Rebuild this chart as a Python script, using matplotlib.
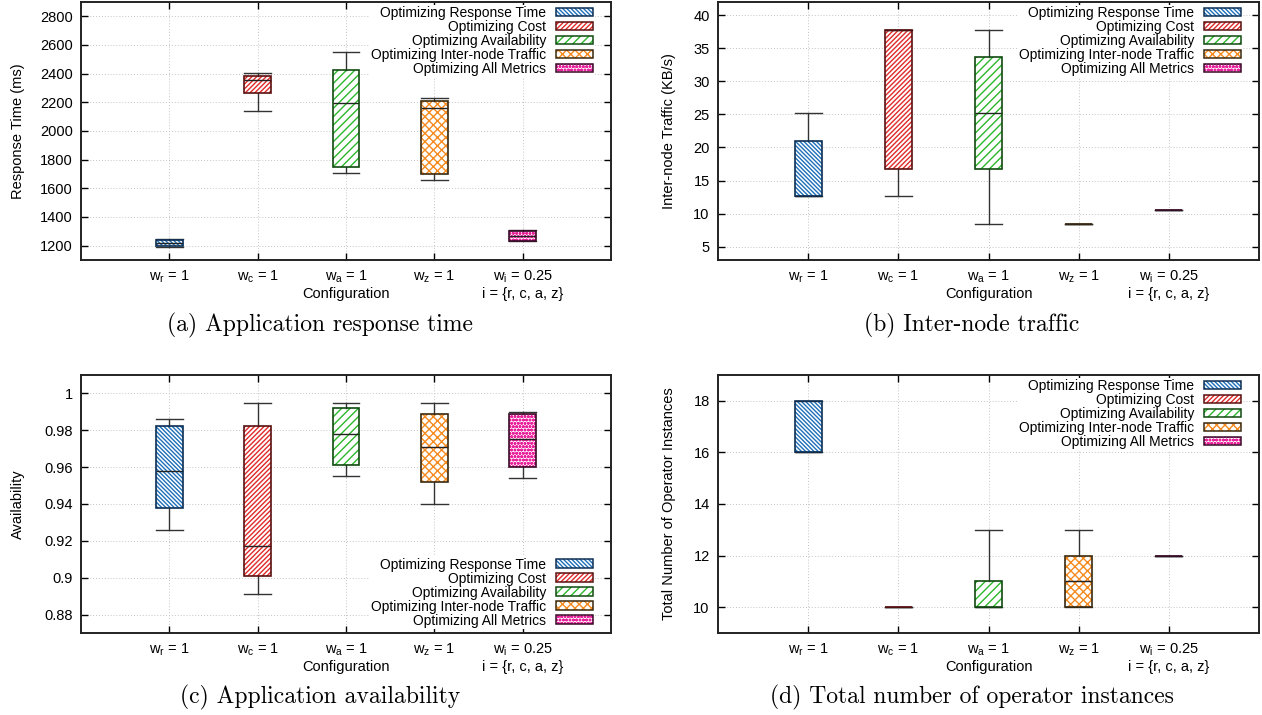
import numpy as np
import matplotlib
matplotlib.use("Agg")
import matplotlib.pyplot as plt
from matplotlib.patches import Patch, PathPatch
from matplotlib.ticker import FuncFormatter

plt.rcParams['font.family'] = ['Liberation Sans', 'DejaVu Sans']
plt.rcParams['mathtext.default'] = 'regular'
plt.rcParams['hatch.linewidth'] = 1.0

configs = ['w$_r$ = 1', 'w$_c$ = 1', 'w$_a$ = 1', 'w$_z$ = 1', 'w$_i$ = 0.25\ni = {r, c, a, z}']
series = ['Optimizing Response Time', 'Optimizing Cost', 'Optimizing Availability',
          'Optimizing Inter-node Traffic', 'Optimizing All Metrics']
colors = ['#1f6fb8', '#e02a2a', '#2cb82c', '#f58a1f', '#e8239c']
edges = ['#0d2f55', '#5a1010', '#104a10', '#3a2a10', '#3a0a28']
hatches = ['\\' * 8, '/' * 7, '////', 'xxxx', 'ooooo']

# (a) response time (ms)
rt_lo = [1188, 2141, 1710, 1661, 1232]
rt_q1 = [1195, 2264, 1750, 1700, 1235]
rt_med = [1220, 2355, 2197, 2157, 1268]
rt_q3 = [1240, 2385, 2423, 2206, 1302]
rt_hi = [1245, 2404, 2553, 2227, 1309]

# (b) inter-node traffic (KB/s)
tr_lo = [12.6, 12.6, 8.4, 8.4, 10.5]
tr_q1 = [12.6, 16.8, 16.8, 8.4, 10.5]
tr_med = [12.6, 37.8, 25.2, 8.4, 10.5]
tr_q3 = [21.0, 37.8, 33.6, 8.4, 10.5]
tr_hi = [25.2, 37.8, 37.8, 8.4, 10.5]

# (c) availability
av_lo = [0.926, 0.891, 0.955, 0.940, 0.954]
av_q1 = [0.938, 0.901, 0.961, 0.952, 0.960]
av_med = [0.958, 0.917, 0.978, 0.971, 0.975]
av_q3 = [0.982, 0.982, 0.992, 0.989, 0.989]
av_hi = [0.986, 0.995, 0.995, 0.995, 0.990]

# (d) operator instances
op_lo = [16, 10, 10, 10, 12]
op_q1 = [16, 10, 10, 10, 12]
op_med = [16, 10, 10, 11, 12]
op_q3 = [18, 10, 11, 12, 12]
op_hi = [18, 10, 13, 13, 12]

panels = [
    dict(pos=[0.0642, 0.6364, 0.42, 0.361], lo=rt_lo, q1=rt_q1, med=rt_med, q3=rt_q3, hi=rt_hi,
         ylim=(1100, 2900), ticks=np.arange(1200, 2801, 200), ylabel='Response Time (ms)',
         yl=-0.105, leg='upper right', anchor=(0.972, 0.995),
         cap='(a) Application response time', cx=0.2536, cy=0.5455),
    dict(pos=[0.569, 0.6364, 0.4287, 0.361], lo=tr_lo, q1=tr_q1, med=tr_med, q3=tr_q3, hi=tr_hi,
         ylim=(3, 42), ticks=np.arange(5, 41, 5), ylabel='Inter-node Traffic (KB/s)',
         yl=-0.077, leg='upper right', anchor=(0.972, 0.995),
         cap='(b) Inter-node traffic', cx=0.770, cy=0.5455),
    dict(pos=[0.0642, 0.1147, 0.42, 0.361], lo=av_lo, q1=av_q1, med=av_med, q3=av_q3, hi=av_hi,
         ylim=(0.87, 1.01), ticks=np.arange(0.88, 1.001, 0.02), ylabel='Availability',
         yl=-0.105, leg='lower right', anchor=(0.972, 0.01),
         cap='(c) Application availability', cx=0.2536, cy=0.024),
    dict(pos=[0.569, 0.1147, 0.4287, 0.361], lo=op_lo, q1=op_q1, med=op_med, q3=op_q3, hi=op_hi,
         ylim=(9, 19), ticks=np.arange(10, 19, 2), ylabel='Total Number of Operator Instances',
         yl=-0.077, leg='upper right', anchor=(0.972, 0.995),
         cap='(d) Total number of operator instances', cx=0.770, cy=0.024),
]

fig = plt.figure(figsize=(12.62, 7.15), dpi=100)
x = np.arange(1, 6)

for p in panels:
    ax = fig.add_axes(p['pos'])
    stats = []
    for i in range(5):
        stats.append(dict(whislo=p['lo'][i], q1=p['q1'][i], med=p['med'][i],
                          q3=p['q3'][i], whishi=p['hi'][i], fliers=[]))
    bp = ax.bxp(stats, positions=x, widths=0.3, capwidths=0.3, patch_artist=True,
                showfliers=False,
                whiskerprops=dict(color='#333333', lw=1.0),
                capprops=dict(color='#333333', lw=1.0),
                medianprops=dict(color='#222222', lw=1.0))
    for box, c, e, h in zip(bp['boxes'], colors, edges, hatches):
        box.set_facecolor('white')
        box.set_edgecolor(c)
        box.set_hatch(h)
        box.set_linewidth(0)
        ax.add_patch(PathPatch(box.get_path(), fill=False, edgecolor=e, lw=1.2,
                               zorder=box.get_zorder() + 0.1))

    ax.set_xlim(0, 6)
    ax.set_ylim(*p['ylim'])
    ax.set_yticks(p['ticks'])
    ax.yaxis.set_major_formatter(FuncFormatter(lambda v, pos: f'{round(v, 4):g}'))
    ax.set_xticks(x)
    ax.set_xticklabels(configs, fontsize=10.5)
    ax.tick_params(axis='y', labelsize=10.5)
    ax.tick_params(direction='in', top=True, right=True, length=5, width=1, pad=6)
    ax.grid(True, linestyle=(0, (1, 2)), color='#c4c4c4', lw=0.7)
    ax.set_axisbelow(True)
    for s in ax.spines.values():
        s.set_linewidth(1.4)
        s.set_color('#222222')
    ax.set_xlabel('Configuration', fontsize=10.5)
    ax.xaxis.set_label_coords(0.5, -0.105)
    ax.set_ylabel(p['ylabel'], fontsize=10.5)
    ax.yaxis.set_label_coords(p['yl'], 0.5)

    handles = [(Patch(facecolor='white', edgecolor=c, hatch=h, lw=0),
                Patch(fill=False, edgecolor=e, lw=1.1)) for c, e, h in zip(colors, edges, hatches)]
    leg = ax.legend(handles, series, loc=p['leg'], bbox_to_anchor=p['anchor'], markerfirst=False,
                    fontsize=10, frameon=True, framealpha=1, edgecolor='none', fancybox=False,
                    handlelength=2.7, handleheight=0.6, labelspacing=0.0,
                    handletextpad=0.7, borderaxespad=0.1, borderpad=0.1)
    leg.set_zorder(1.5)

    fig.text(p['cx'], p['cy'], p['cap'], ha='center', va='center', fontsize=17, family='cmr10')

fig.savefig('out.png', dpi=100)
